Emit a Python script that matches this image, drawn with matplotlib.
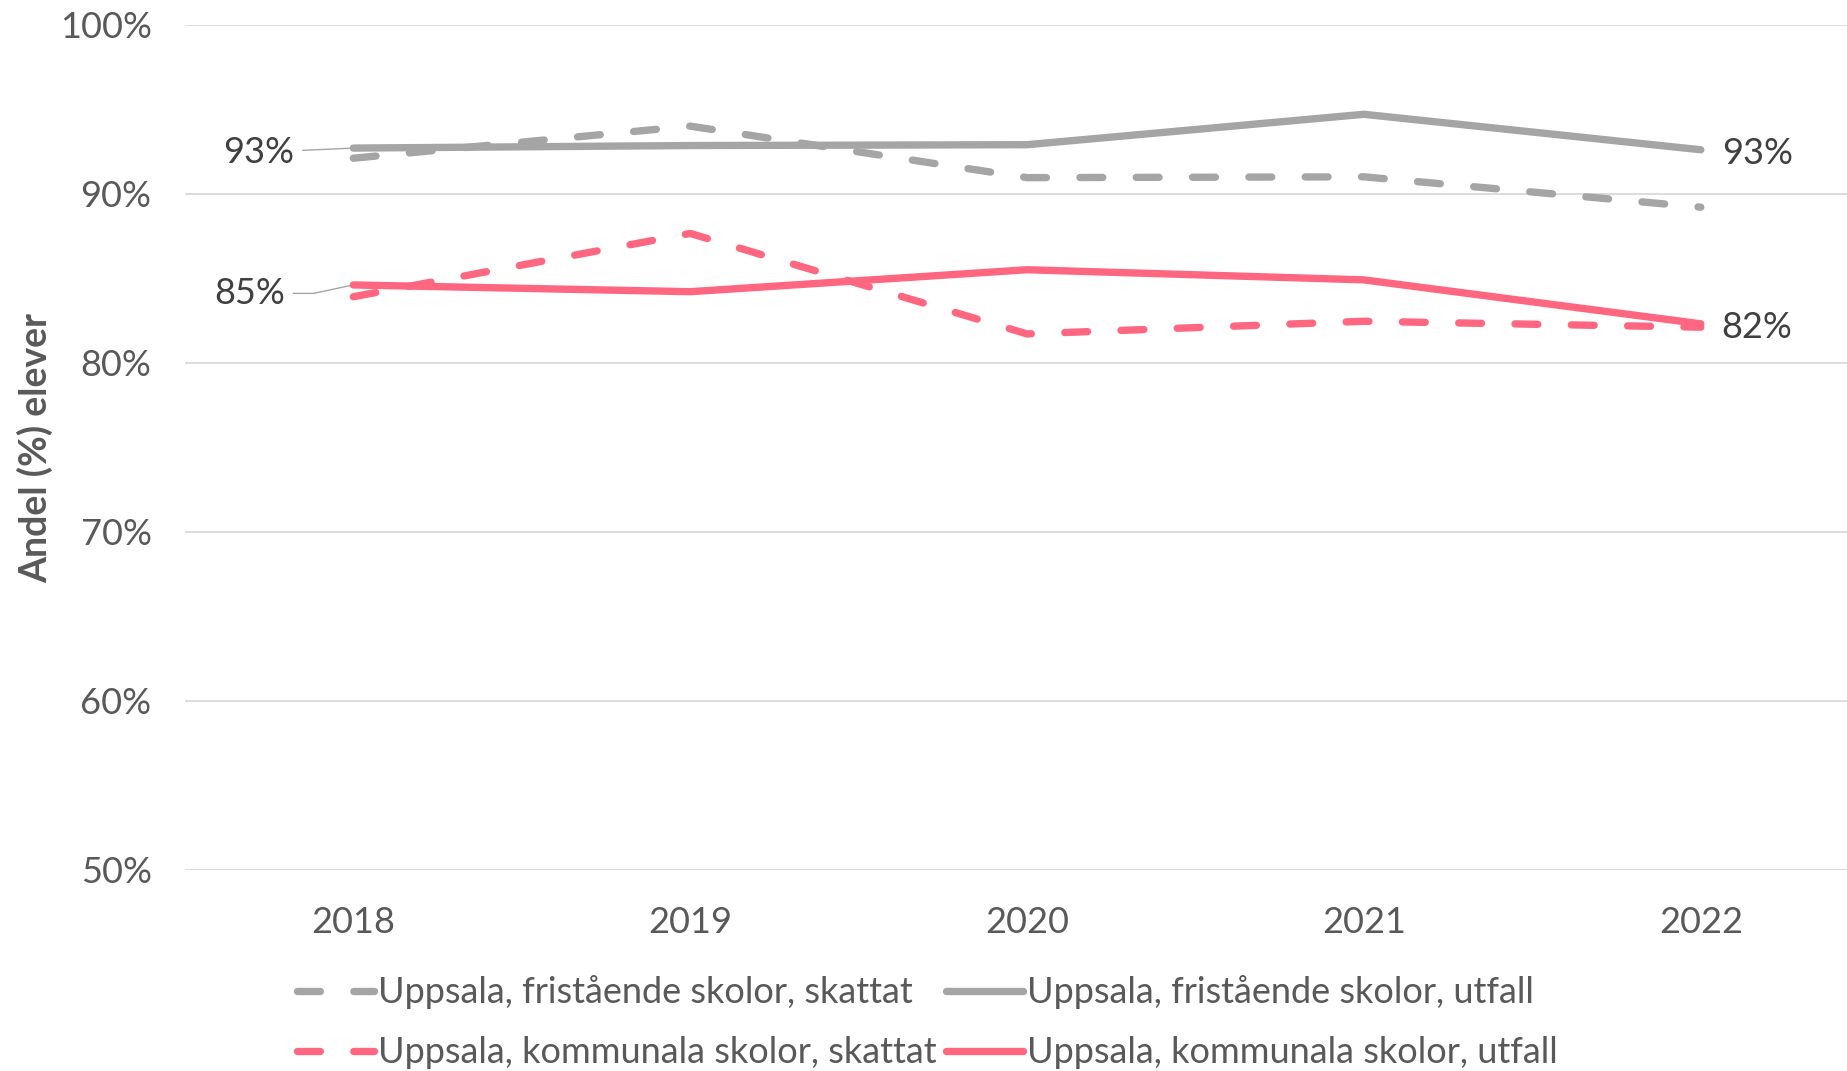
import matplotlib
matplotlib.use("Agg")
import matplotlib.pyplot as plt

plt.rcParams['font.family'] = ['Lato', 'DejaVu Sans']

years = ["2018", "2019", "2020", "2021", "2022"]
frist_skattat = [92.1, 94.0, 90.95, 91.0, 89.2]
frist_utfall = [92.7, 92.85, 92.9, 94.7, 92.6]
komm_skattat = [83.9, 87.65, 81.7, 82.45, 82.1]
komm_utfall = [84.6, 84.2, 85.5, 84.9, 82.3]
yticks = [50, 60, 70, 80, 90, 100]
ytick_labels = ["50%", "60%", "70%", "80%", "90%", "100%"]
series_names = ["Uppsala, fristående skolor, skattat", "Uppsala, fristående skolor, utfall",
                "Uppsala, kommunala skolor, skattat", "Uppsala, kommunala skolor, utfall"]
ylabel = "Andel (%) elever"

GRAY = "#A5A5A5"
PINK = "#FF6680"
TICK = "#595959"
LBL = "#404040"

fig = plt.figure(figsize=(18.47, 10.71), dpi=100)
ax = fig.add_axes([0.1001, 0.1881, 0.8999, 0.7888])

x = list(range(len(years)))
lw = 5.3
dash = (3.1, 4.55)
l1, = ax.plot(x, frist_skattat, color=GRAY, lw=lw, dashes=dash, dash_capstyle='round', dash_joinstyle='round', zorder=3)
l2, = ax.plot(x, frist_utfall, color=GRAY, lw=lw, solid_capstyle='round', solid_joinstyle='round', zorder=3)
l3, = ax.plot(x, komm_skattat, color=PINK, lw=lw, dashes=dash, dash_capstyle='round', dash_joinstyle='round', zorder=4)
l4, = ax.plot(x, komm_utfall, color=PINK, lw=lw, solid_capstyle='round', solid_joinstyle='round', zorder=4)

ax.set_ylim(50, 100)
ax.set_xlim(-0.5, 4.434)
ax.set_yticks(yticks)
ax.set_yticklabels(ytick_labels)
ax.set_xticks(x)
ax.set_xticklabels(years)
ax.tick_params(axis='both', length=0, labelsize=26, colors=TICK)
ax.tick_params(axis='y', pad=24)
ax.tick_params(axis='x', pad=26)
ax.grid(axis='y', color="#D9D9D9", lw=1.3)
ax.set_axisbelow(True)
for s in ax.spines.values():
    s.set_visible(False)

fig.text(0.019, 0.582, ylabel, rotation=90, ha='center', va='center',
         fontsize=27, fontweight='bold', color=TICK)

# left data labels with leader lines
ax.annotate(f"{frist_utfall[0]:.0f}%", xy=(0, frist_utfall[0]), xytext=(-0.175, frist_utfall[0] - 0.25),
            ha='right', va='center', fontsize=26, color=LBL,
            arrowprops=dict(arrowstyle='-', color=GRAY, lw=1.0, shrinkA=4, shrinkB=0))
ax.annotate(f"{komm_utfall[0]:.0f}%", xy=(0, komm_utfall[0]), xytext=(-0.203, komm_utfall[0] - 0.5),
            ha='right', va='center', fontsize=26, color=LBL,
            arrowprops=dict(arrowstyle='-', color=GRAY, lw=1.0, shrinkA=4, shrinkB=0,
                            connectionstyle="angle,angleA=0,angleB=12,rad=0"))
# right data labels
ax.annotate(f"{frist_utfall[-1]:.0f}%", xy=(4, frist_utfall[-1]), xytext=(15, -3), textcoords='offset points',
            ha='left', va='center', fontsize=26, color=LBL)
ax.annotate(f"{komm_utfall[-1]:.0f}%", xy=(4, komm_utfall[-1]), xytext=(15, -3), textcoords='offset points',
            ha='left', va='center', fontsize=26, color=LBL)

# row-major legend order (matplotlib fills columns first)
leg = fig.legend([l1, l3, l2, l4], [series_names[0], series_names[2], series_names[1], series_names[3]],
                 ncol=2, loc='lower left',
                 bbox_to_anchor=(0.147, -0.022), frameon=False, fontsize=26,
                 handlelength=2.15, handletextpad=0.1, columnspacing=0.25, labelspacing=0.75,
                 labelcolor=TICK, borderpad=0.2)

fig.savefig("out.png", dpi=100)
